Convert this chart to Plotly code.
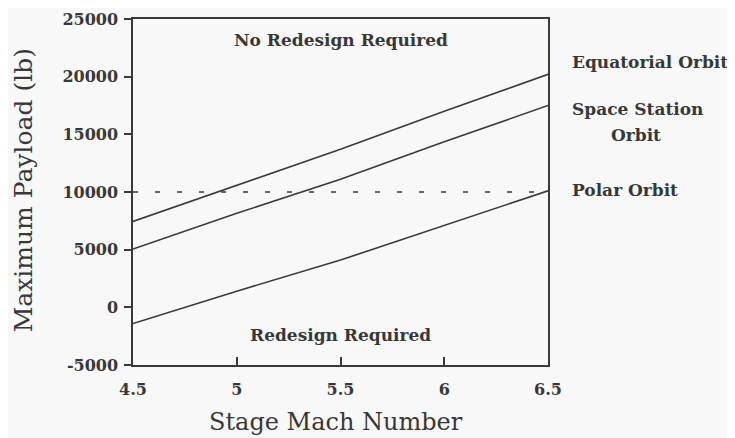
import plotly.graph_objects as go

mach = [4.5, 5.0, 5.5, 6.0, 6.5]
equatorial = [7450, 10600, 13700, 17000, 20200]
space_station = [5050, 8150, 11100, 14350, 17500]
polar = [-1400, 1400, 4100, 7100, 10100]
threshold = 10000
x_ticks = [4.5, 5, 5.5, 6, 6.5]
x_tick_labels = ["4.5", "5", "5.5", "6", "6.5"]
y_ticks = [-5000, 0, 5000, 10000, 15000, 20000, 25000]
y_tick_labels = ["-5000", "0", "5000", "10000", "15000", "20000", "25000"]

FONT = "DejaVu Serif"
INK = "#383838"
LINE = "#3a3a3a"

fig = go.Figure()
for name, ys in [("Equatorial Orbit", equatorial), ("Space Station Orbit", space_station), ("Polar Orbit", polar)]:
    fig.add_trace(go.Scatter(x=mach, y=ys, mode="lines", name=name,
                             line=dict(color=LINE, width=1.6), showlegend=False))
fig.add_trace(go.Scatter(x=[mach[0], mach[-1]], y=[threshold, threshold], mode="lines",
                         line=dict(color=LINE, width=1.6, dash="5px,17px"), showlegend=False))

fig.update_layout(
    width=735, height=438,
    margin=dict(l=125, r=195, t=11, b=81),
    paper_bgcolor="#f8f8f8", plot_bgcolor="#f8f8f8",
    font=dict(family=FONT, color=INK),
    xaxis=dict(range=[4.5, 6.5], tickvals=x_ticks, ticktext=x_tick_labels,
               showline=True, linecolor=LINE, linewidth=1.5, mirror=True,
               ticks="inside", ticklen=8, tickcolor=LINE, tickwidth=1.5,
               ticklabelstandoff=9, automargin=False,
               showgrid=False, zeroline=False,
               tickfont=dict(size=16, family=FONT, color=INK, weight="bold")),
    yaxis=dict(range=[-5000, 25000], tickvals=y_ticks, ticktext=y_tick_labels,
               showline=True, linecolor=LINE, linewidth=1.5, mirror=True,
               ticks="outside", ticklen=7, tickcolor=LINE, tickwidth=1.5,
               ticklabelstandoff=3, automargin=False,
               showgrid=False, zeroline=False,
               tickfont=dict(size=16, family=FONT, color=INK, weight="bold")),
)

# axis titles
fig.add_annotation(x=0.49, y=-0.166, xref="paper", yref="paper", text="Stage Mach Number",
                   xanchor="center", yanchor="middle",
                   showarrow=False, font=dict(size=24, family=FONT, color=INK))
fig.add_annotation(x=-0.265, y=0.505, xref="paper", yref="paper", text="Maximum Payload (lb)",
                   xanchor="center", yanchor="middle",
                   showarrow=False, textangle=-90, font=dict(size=25, family=FONT, color=INK))

ann_font = dict(size=17, family=FONT, color=INK, weight="bold")
fig.add_annotation(x=5.5, y=23150, text="No Redesign Required", showarrow=False, font=ann_font, xref="x", yref="y")
fig.add_annotation(x=5.5, y=-2400, text="Redesign Required", showarrow=False, font=ann_font, xref="x", yref="y")
fig.add_annotation(x=1.053, y=21250, text="Equatorial Orbit", showarrow=False, font=ann_font,
                   xref="paper", yref="y", xanchor="left")
fig.add_annotation(x=1.053, y=17180, text="Space Station", showarrow=False, font=ann_font,
                   xref="paper", yref="y", xanchor="left")
fig.add_annotation(x=1.212, y=14920, text="Orbit", showarrow=False, font=ann_font,
                   xref="paper", yref="y", xanchor="center")
fig.add_annotation(x=1.053, y=10165, text="Polar Orbit", showarrow=False, font=ann_font,
                   xref="paper", yref="y", xanchor="left")

fig.write_html("out.html")
